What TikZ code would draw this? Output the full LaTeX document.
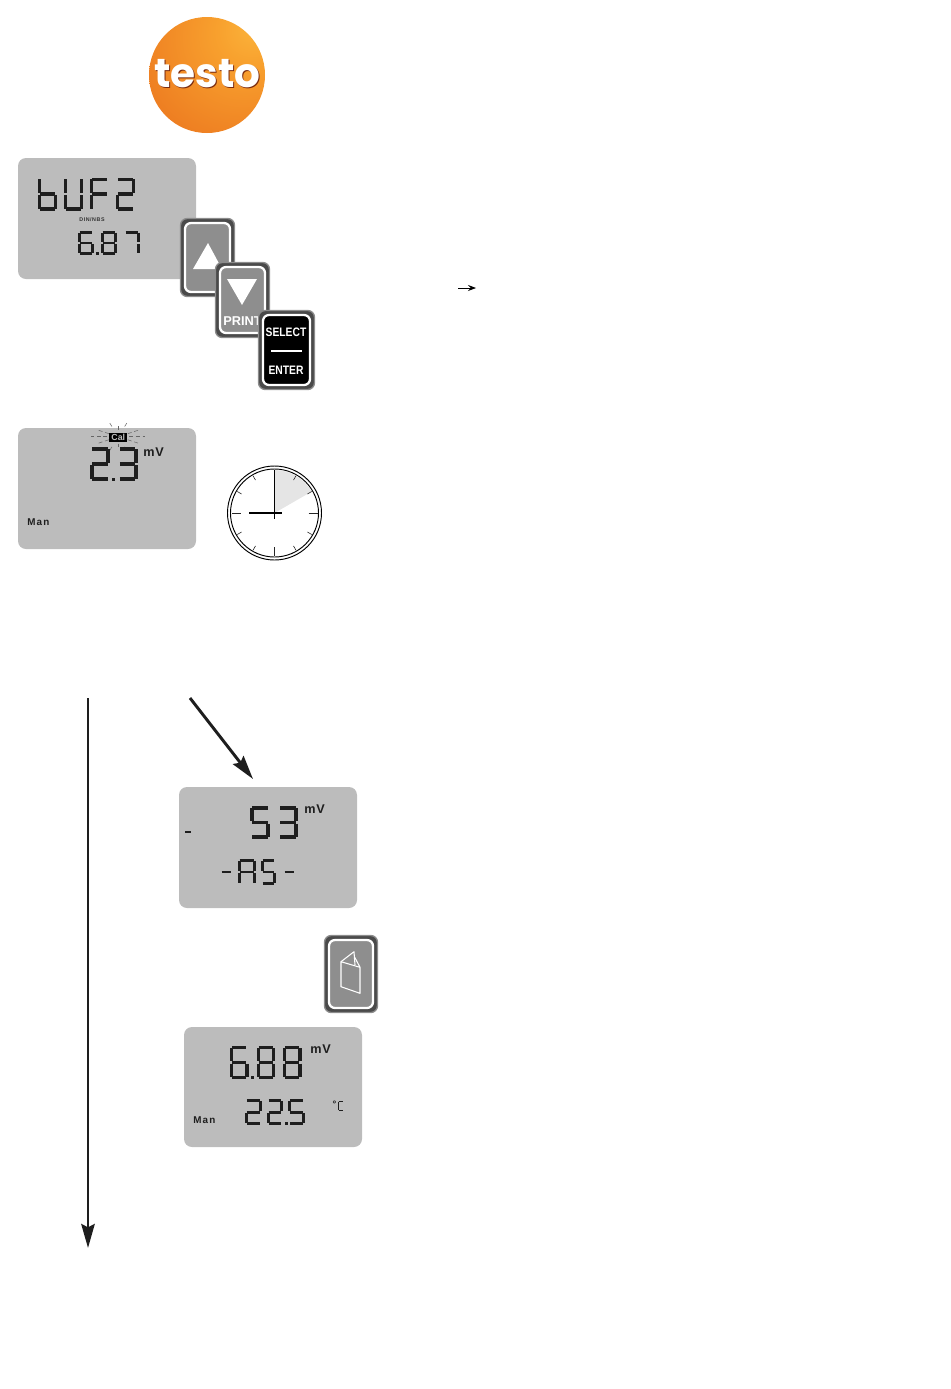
\documentclass[tikz,border=0pt]{standalone}
\usepackage{fontspec}
\setmainfont{Liberation Sans}
\newfontfamily\logofont{Poppins}
\usetikzlibrary{arrows.meta}
\definecolor{lcdgray}{HTML}{BCBCBC}
\definecolor{keygray}{HTML}{8E8E8E}
\definecolor{keyedge}{HTML}{4A4A4A}
\definecolor{segblack}{HTML}{1E1E1E}
\definecolor{ball0}{HTML}{FBB53C}
\definecolor{ball1}{HTML}{F8A12E}
\definecolor{ball2}{HTML}{EE7F22}
\definecolor{ball3}{HTML}{DD4F1B}
\pgfdeclareradialshading{testoball}{\pgfpoint{22bp}{22bp}}{
 color(0bp)=(ball0); color(14bp)=(ball1); color(42bp)=(ball2); color(78bp)=(ball3); color(100bp)=(ball3)}
% seven-segment characters
\newcommand\lsa{\draw (\lcdX+\lcdG,\lcdY+\lcdT/2) -- (\lcdX+\lcdW-\lcdG,\lcdY+\lcdT/2);}
\newcommand\lsb{\draw (\lcdX+\lcdW-\lcdT/2,\lcdY+\lcdG) -- (\lcdX+\lcdW-\lcdT/2,\lcdY+\lcdH/2-\lcdG/2);}
\newcommand\lsc{\draw (\lcdX+\lcdW-\lcdT/2,\lcdY+\lcdH/2+\lcdG/2) -- (\lcdX+\lcdW-\lcdT/2,\lcdY+\lcdH-\lcdG);}
\newcommand\lsd{\draw (\lcdX+\lcdG,\lcdY+\lcdH-\lcdT/2) -- (\lcdX+\lcdW-\lcdG,\lcdY+\lcdH-\lcdT/2);}
\newcommand\lse{\draw (\lcdX+\lcdT/2,\lcdY+\lcdH/2+\lcdG/2) -- (\lcdX+\lcdT/2,\lcdY+\lcdH-\lcdG);}
\newcommand\lsf{\draw (\lcdX+\lcdT/2,\lcdY+\lcdG) -- (\lcdX+\lcdT/2,\lcdY+\lcdH/2-\lcdG/2);}
\newcommand\lsg{\draw (\lcdX+\lcdG,\lcdY+\lcdH/2) -- (\lcdX+\lcdW-\lcdG,\lcdY+\lcdH/2);}
\newcommand\lsp{\fill (\lcdX+\lcdW+2.2,\lcdY+\lcdH-3) rectangle +(3,3);}
\newcommand\defchar[2]{\expandafter\def\csname lcdc#1\endcsname{#2}}
\defchar{2}{\lsa\lsb\lsg\lse\lsd}
\defchar{2.}{\lsa\lsb\lsg\lse\lsd\lsp}
\defchar{3}{\lsa\lsb\lsg\lsc\lsd}
\defchar{5}{\lsa\lsf\lsg\lsc\lsd}
\defchar{6}{\lsa\lsf\lsg\lsc\lsd\lse}
\defchar{6.}{\lsa\lsf\lsg\lsc\lsd\lse\lsp}
\defchar{7}{\lsa\lsb\lsc}
\defchar{8}{\lsa\lsb\lsc\lsd\lse\lsf\lsg}
\defchar{b}{\lsf\lse\lsg\lsc\lsd}
\defchar{U}{\lsf\lse\lsd\lsc\lsb}
\defchar{F}{\lsa\lsf\lse\lsg}
\defchar{A}{\lsa\lsb\lsc\lse\lsf\lsg}
\defchar{S}{\lsa\lsf\lsg\lsc\lsd}
\defchar{C}{\lsa\lsf\lse\lsd}
\defchar{-}{\lsg}
% \lcdstr{x}{y}{width}{height}{pitch}{stroke}{chars}
\newcommand\lcdstr[7]{%
 \begin{scope}[draw=segblack,fill=segblack,line width=#6*.75pt,line cap=butt]
 \foreach \ch [count=\ci from 0] in {#7}{%
  \pgfmathsetmacro\lcdX{#1+\ci*#5}%
  \def\lcdY{#2}\def\lcdW{#3}\def\lcdH{#4}\def\lcdT{#6}\pgfmathsetmacro\lcdG{#6*.6}%
  \csname lcdc\ch\endcsname}
 \end{scope}}
\newcommand\keybox[5]{%
 \draw[draw=black!45,line width=1pt,fill=keyedge,rounded corners=5pt] (#1+.5,#2+.5) rectangle (#3-.5,#4-.5);
 \draw[draw=white,line width=1.7pt,fill=#5,rounded corners=4.5pt] (#1+5,#2+5) rectangle (#3-5,#4-5);}
\tikzset{
 lcdpanel/.style={fill=lcdgray,draw=none,rounded corners=6pt},
 lcdlabel/.style={font=\bfseries\fontsize{7.4}{8}\selectfont\addfontfeatures{LetterSpace=12},text=segblack,inner sep=0pt},
 unitlabel/.style={font=\bfseries\fontsize{9.5}{10}\selectfont\addfontfeatures{LetterSpace=6},text=segblack,inner sep=0pt},
 keylabel/.style={font=\bfseries,text=white,inner sep=0pt},
 flowarrow/.style={line width=2.2pt,draw=segblack,-{Stealth[length=18pt,width=10pt,inset=2.5pt]}},
 thinarrow/.style={line width=.55pt,draw=black,-{Stealth[length=6pt,width=4.5pt,inset=2.2pt]}},
 ray/.style={draw=black!60,line width=.4pt},
 tick/.style={draw=black!85,line width=.45pt},
 bigtick/.style={draw=black!85,line width=.75pt}
}
\begin{document}
\begin{tikzpicture}[x=.75pt,y=-.75pt]
\useasboundingbox (0,0) rectangle (950,1389);
% logo
\shade[shading=testoball] (207,75) circle (58);
\node[inner sep=0pt,text=black!45!ball3] (logoshadow) at (208.4,74.2) {\logofont\bfseries\fontsize{30.4}{31}\selectfont testo};
\node[inner sep=0pt,text=white] (logotext) at (207.5,73.2) {\logofont\bfseries\fontsize{30.4}{31}\selectfont testo};
% display 1
\fill[lcdpanel] (18,158) rectangle (196,279);
\lcdstr{38}{177.5}{19}{33}{26}{3.3}{b,U,F,2}
\node[font=\bfseries\fontsize{4}{4}\selectfont\addfontfeatures{LetterSpace=10},text=black!80,inner sep=0pt] (din) at (92,220) {DIN/NBS};
\lcdstr{78}{231}{15.5}{24}{23}{2.7}{6.,8,7}
% keys
\keybox{180}{218}{235}{297}{keygray}
\fill[white] (208,243) -- (222,269) -- (193,269) -- cycle;
\keybox{215}{262}{270}{338}{keygray}
\fill[white] (227,279) -- (257,279) -- (242,305) -- cycle;
\node[keylabel,font=\bfseries\fontsize{9.6}{10}\selectfont,anchor=west] (print) at (223,321) {PRINT};
\keybox{258}{310}{315}{390}{black}
\node[keylabel,font=\bfseries\fontsize{9.2}{10}\selectfont,xscale=.84] (select) at (286,332) {SELECT};
\node[keylabel,font=\bfseries\fontsize{9.2}{10}\selectfont,xscale=.84] (enter) at (286,370.5) {ENTER};
\draw[white,line width=.9pt] (271,351) -- (302,351);
% display 2
\fill[lcdpanel] (18,428) rectangle (196,549);
\foreach \a/\r/\s in {0/11/27,180/11/27,18/10/23,162/10/23,-18/10/23,198/10/23,90/7/10,270/7/12,58/12/17,122/12/17,-58/12/17,238/12/17}{
 \draw[ray,densely dashed] (118.3,436.7) ++(\a:\r) -- ++(\a:\s-\r);}
\fill[black] (109,432.7) rectangle (127,441.7);
\node[font=\bfseries\fontsize{6.6}{7}\selectfont,text=lcdgray,inner sep=0pt] (cal) at (118.3,437.2) {Cal};
\lcdstr{90}{447}{20}{34}{27.5}{3.8}{2.,3}
\node[unitlabel,anchor=west] (mv2) at (143,452) {mV};
\node[lcdlabel,anchor=west] (man2) at (27,522.5) {Man};
% clock
\draw[black,line width=.7pt] (274.5,513) circle (47);
\draw[black,line width=.7pt] (274.5,513) circle (44);
\fill[black!10] (274.5,513) -- (274.5,470) arc[start angle=-90,end angle=-30,radius=43] -- cycle;
\foreach \a in {30,60,120,150,210,240,300,330}{
 \draw[tick] (274.5,513) ++(\a:38) -- ++(\a:5);}
\foreach \a in {0,90,180,270}{
 \draw[bigtick] (274.5,513) ++(\a:34) -- ++(\a:9);}
\draw[black,line width=1.3pt] (274.5,470) -- (274.5,519);
\draw[black,line width=2pt] (249,513) -- (282,513);
% arrows
\coordinate (leftstart) at (88,698);
\coordinate (leftend) at (88,1248);
\draw[flowarrow] (leftstart) -- (leftend);
\coordinate (diagstart) at (190,698);
\coordinate (diagend) at (253,779);
\draw[flowarrow] (diagstart) -- (diagend);
\coordinate (thinstart) at (458,288);
\coordinate (thinend) at (476,288);
\draw[thinarrow] (thinstart) -- (thinend);
% display 3
\fill[lcdpanel] (179,787) rectangle (357,908);
\lcdstr{250}{806}{20}{33}{28}{3.8}{5,3}
\node[unitlabel,anchor=west] (mv3) at (304,809.5) {mV};
\draw[segblack,line width=1.2pt] (185,832) -- (191,832);
\lcdstr{220}{859}{12.5}{26}{63}{2.6}{-,-}
\lcdstr{238}{859}{18}{26}{0}{2.6}{A}
\lcdstr{261}{859}{14.5}{26}{0}{2.6}{S}
% book key
\keybox{324}{935}{378}{1013}{keygray}
\draw[white,line width=.8pt,line join=round] (341,961.7) -- (360,967.3) -- (360,993.3) -- (341,986.7) -- cycle;
\draw[white,line width=.8pt,line join=round] (341,961.7) -- (354,951.7) -- (355,965);
\draw[white,line width=.8pt] (354.6,957) -- (360,967.3);
% display 4
\fill[lcdpanel] (184,1027) rectangle (362,1147);
\lcdstr{230}{1046}{18.5}{33}{26.5}{3.4}{6.,8,8}
\node[unitlabel,anchor=west] (mv4) at (310,1049.5) {mV};
\lcdstr{245}{1099}{16.5}{26}{21.7}{3}{2,2.,5}
\node[font=\bfseries\fontsize{7}{7}\selectfont,text=segblack,inner sep=0pt] (deg) at (334.5,1104) {°};
\lcdstr{338}{1101}{6}{10}{0}{1.1}{C}
\node[lcdlabel,anchor=west] (man4) at (193,1120.5) {Man};
\end{tikzpicture}
\end{document}
